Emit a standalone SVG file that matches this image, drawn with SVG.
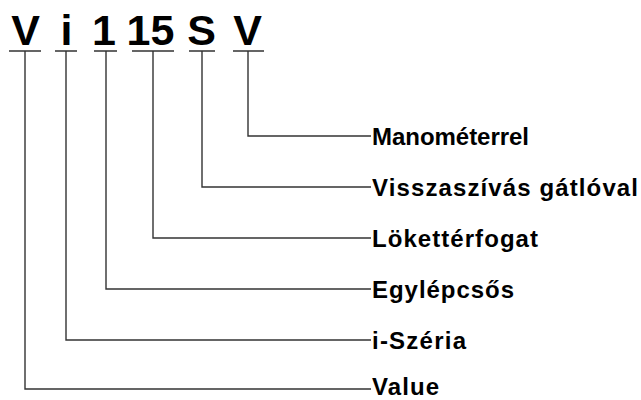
<svg xmlns="http://www.w3.org/2000/svg" width="641" height="400" viewBox="0 0 641 400">
<style>
.code{font-family:"Liberation Sans",Arial,sans-serif;font-weight:bold;font-size:43px;fill:#000;text-anchor:middle}
.lbl{font-family:"Liberation Sans",Arial,sans-serif;font-weight:bold;font-size:24px;fill:#000}
.ln{fill:none;stroke:#333;stroke-width:1.4}
</style>
<rect width="641" height="400" fill="#fff"/>
<g id="code-V1"><text class="code" x="25.5" y="44.5">V</text></g>
<g id="code-i"><text class="code" x="66.5" y="44.5">i</text></g>
<g id="code-1"><text class="code" x="104" y="44.5">1</text></g>
<g id="code-15"><text class="code" x="150.5" y="44.5">15</text></g>
<g id="code-S"><text class="code" x="201.5" y="44.5">S</text></g>
<g id="code-V2"><text class="code" x="247.5" y="44.5">V</text></g>
<g id="label-manometer"><text class="lbl" x="372" y="145" textLength="157" lengthAdjust="spacing">Manométerrel</text></g>
<g id="label-visszaszivas"><text class="lbl" x="372" y="196" textLength="266" lengthAdjust="spacing">Visszaszívás gátlóval</text></g>
<g id="label-lokettérfogat"><text class="lbl" x="372" y="247" textLength="166" lengthAdjust="spacing">Lökettérfogat</text></g>
<g id="label-egylepcsos"><text class="lbl" x="372" y="298" textLength="142" lengthAdjust="spacing">Egylépcsős</text></g>
<g id="label-iszeria"><text class="lbl" x="372" y="349" textLength="94" lengthAdjust="spacing">i-Széria</text></g>
<g id="label-value"><text class="lbl" x="372" y="395" textLength="67" lengthAdjust="spacing">Value</text></g>
<g id="connectors">
<path class="ln" d="M9,51H41 M55,51H77 M94,51H117 M132,51H174 M189,51H215 M233,51H264"/>
<path class="ln" d="M248,51V136H371"/>
<path class="ln" d="M202,51V187H371"/>
<path class="ln" d="M153,51V238H371"/>
<path class="ln" d="M106,51V289H371"/>
<path class="ln" d="M66,51V340H371"/>
<path class="ln" d="M25,51V389H371"/>
</g>
</svg>
